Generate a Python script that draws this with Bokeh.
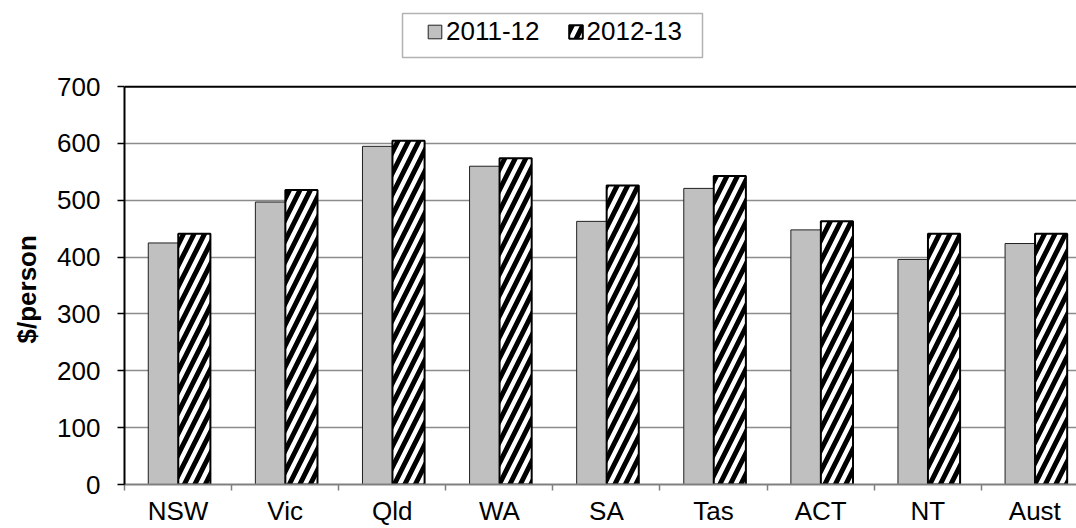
from bokeh.plotting import figure
from bokeh.models import (Range1d, FixedTicker, Span, Legend, LegendItem,
                          BoxAnnotation, ColumnDataSource, Title)
from bokeh.embed import file_html
from bokeh.resources import INLINE

# ---- data ----
regions = ["NSW", "Vic", "Qld", "WA", "SA", "Tas", "ACT", "NT", "Aust"]
values_2011_12 = [425, 497, 595, 560, 463, 521, 448, 396, 424]
values_2012_13 = [441, 518, 605, 574, 526, 543, 463, 441, 441]
series_names = ["2011-12", "2012-13"]
y_ticks = [0, 100, 200, 300, 400, 500, 600, 700]
y_label = "$/person"

FONT = "Liberation Sans"

# layout: frame spans the whole height above the x axis; the value axis
# occupies its lower 400 px (0..700), the legend sits in the space above.
FRAME_BOTTOM = 487
AXIS_TOP = 86.7
y_max = y_ticks[-1]
y_end = y_max * FRAME_BOTTOM / (FRAME_BOTTOM - AXIS_TOP)

centers = [i + 0.5 for i in range(len(regions))]
src = ColumnDataSource(dict(
    x1=[c - 0.138 for c in centers],
    x2=[c + 0.152 for c in centers],
    a=values_2011_12,
    b=values_2012_13,
))

p = figure(width=1076, height=528,
           x_range=Range1d(0, 8.889), y_range=Range1d(0, y_end),
           output_backend="svg", toolbar_location=None,
           min_border_left=124, min_border_top=0,
           min_border_right=0, min_border_bottom=528 - FRAME_BOTTOM)
p.outline_line_color = None
p.background_fill_color = "white"
p.border_fill_color = "white"

r1 = p.vbar(x="x1", top="a", width=0.28, bottom=0, source=src,
            fill_color="#C0C0C0", line_color="#202020", line_width=1)
r2 = p.vbar(x="x2", top="b", width=0.30, bottom=0, source=src,
            fill_color="white", line_color="black", line_width=2,
            hatch_pattern="right_diagonal_line", hatch_color="black",
            hatch_scale=21, hatch_weight=5)

# grid
p.xgrid.visible = False
p.ygrid.ticker = FixedTicker(ticks=y_ticks[:-1])
p.ygrid.grid_line_color = "#8c8c8c"
p.ygrid.grid_line_width = 1.5
p.add_layout(Span(location=y_max, dimension="width", line_color="black", line_width=2))

# x axis
p.xaxis.ticker = FixedTicker(ticks=centers, minor_ticks=list(range(0, len(regions) + 1)))
p.xaxis.major_label_overrides = {c: r for c, r in zip(centers, regions)}
p.xaxis.major_tick_out = 0
p.xaxis.major_tick_in = 0
p.xaxis.minor_tick_out = 6
p.xaxis.minor_tick_in = 0
p.xaxis.minor_tick_line_color = "#808080"
p.xaxis.minor_tick_line_width = 1.5
p.xaxis.axis_line_color = "#808080"
p.xaxis.axis_line_width = 2
p.xaxis.major_label_text_font = FONT
p.xaxis.major_label_text_font_size = "26px"
p.xaxis.major_label_text_color = "black"
p.xaxis.major_label_standoff = 5

# y axis
p.yaxis.bounds = (0, y_max)
p.yaxis.ticker = FixedTicker(ticks=y_ticks)
p.yaxis.major_tick_out = 7
p.yaxis.major_tick_in = 0
p.yaxis.major_tick_line_color = "black"
p.yaxis.major_tick_line_width = 1.5
p.yaxis.minor_tick_line_color = None
p.yaxis.axis_line_color = "black"
p.yaxis.axis_line_width = 2
p.yaxis.major_label_text_font = FONT
p.yaxis.major_label_text_font_size = "26px"
p.yaxis.major_label_text_color = "black"
p.yaxis.major_label_standoff = 17

# y axis title, centred on the 0..700 part of the axis
p.add_layout(Title(text=y_label, align="left", offset=141, vertical_align="top",
                   standoff=22, text_font=FONT, text_font_size="26px",
                   text_font_style="bold", text_color="black"), "left")

# legend
legend = Legend(items=[LegendItem(label=series_names[0], renderers=[r1]),
                       LegendItem(label=series_names[1], renderers=[r2])],
                location=(302, 437), orientation="horizontal",
                padding=0, margin=0, spacing=27,
                glyph_width=17, glyph_height=17, label_standoff=3,
                label_text_font=FONT, label_text_font_size="26px",
                label_text_color="black",
                border_line_color=None, background_fill_alpha=0)
p.add_layout(legend)
p.add_layout(BoxAnnotation(left=402, right=702, top=13, bottom=57,
                           left_units="canvas", right_units="canvas",
                           top_units="canvas", bottom_units="canvas",
                           fill_color=None, line_color="black", line_width=1.5))

open("out.html", "w").write(file_html(p, INLINE))
